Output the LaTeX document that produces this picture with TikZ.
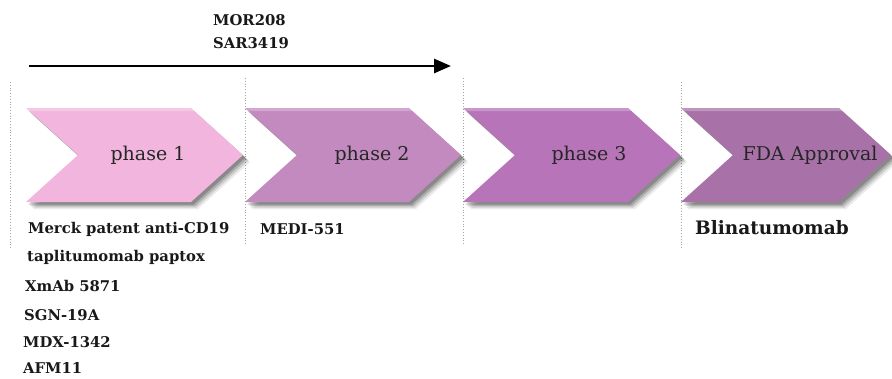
\documentclass[tikz,border=0pt]{standalone}
\usepackage{fontspec}
\setmainfont{DejaVu Serif}
\usetikzlibrary{arrows.meta}
\definecolor{cOne}{HTML}{F2B6DE}
\definecolor{cTwo}{HTML}{C38ABF}
\definecolor{cThree}{HTML}{B774B9}
\definecolor{cFour}{HTML}{A872A8}
\tikzset{
  guide/.style={draw=gray!70, line width=0.8pt, dotted},
  phaselabel/.style={font=\fontsize{19}{22}\selectfont, text=black!85},
  druglabel/.style={font=\bfseries\fontsize{14.8}{18}\selectfont, anchor=west, inner sep=0pt, text=black!90},
  timeline/.style={line width=2.8pt, -{Triangle[length=17pt,width=14pt]}},
}
\newcommand{\chev}[3]{% left, tip, colour
  \pgfmathsetmacro{\cl}{#1}\pgfmathsetmacro{\ct}{#2}
  \pgfmathsetmacro{\cr}{#2-52}\pgfmathsetmacro{\cn}{#1+52}
  \foreach \o/\op in {7/0.08,5.5/0.12,4/0.16,2.5/0.2}{
    \fill[black,opacity=\op] (\cl+\o,108+\o) -- (\cr+\o,108+\o) -- (\ct+\o,155+\o) -- (\cr+\o,202+\o) -- (\cl+\o,202+\o) -- (\cn+\o,155+\o) -- cycle;
  }
  \fill[#3] (\cl,108) -- (\cr,108) -- (\ct,155) -- (\cr,202) -- (\cl,202) -- (\cn,155) -- cycle;
  \fill[white,opacity=0.25] (\cl,108) -- (\cr,108) -- (\cr+3,111) -- (\cl+4,111) -- cycle;
}
\begin{document}
\begin{tikzpicture}[x=1pt,y=-1pt]
\useasboundingbox[fill=white] (0,0) rectangle (892,378);
% guides
\draw[guide] (10,82) -- (10,250);
\draw[guide] (245,78) -- (245,245);
\draw[guide] (463,78) -- (463,245);
\draw[guide] (681,82) -- (681,250);
% chevrons
\chev{26}{243}{cOne}
\chev{245}{461}{cTwo}
\chev{463}{680}{cThree}
\chev{681}{891}{cFour}
\node[phaselabel] (p1) at (148,155) {phase 1};
\node[phaselabel] (p2) at (372,155) {phase 2};
\node[phaselabel] (p3) at (589,155) {phase 3};
\node[phaselabel] (p4) at (810,155) {FDA Approval};
% timeline
\coordinate (tlstart) at (29,66);
\coordinate (tlend) at (451,66);
\draw[timeline] (tlstart) -- (tlend);
\node[druglabel] (mor) at (213,20) {MOR208};
\node[druglabel] (sar) at (213,43) {SAR3419};
% drugs
\node[druglabel] (d1) at (28,229) {Merck patent anti-CD19};
\node[druglabel] (d2) at (27,257) {taplitumomab paptox};
\node[druglabel] (d3) at (25,286) {XmAb 5871};
\node[druglabel] (d4) at (24,315) {SGN-19A};
\node[druglabel] (d5) at (23,342) {MDX-1342};
\node[druglabel] (d6) at (23,368) {AFM11};
\node[druglabel] (d7) at (260,229) {MEDI-551};
\node[druglabel, font=\bfseries\fontsize{18.5}{22}\selectfont] (d8) at (695,228) {Blinatumomab};
\end{tikzpicture}
\end{document}
